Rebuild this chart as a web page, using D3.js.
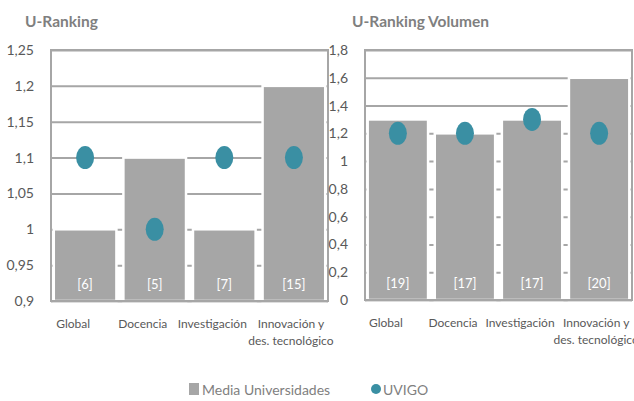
<!DOCTYPE html>
<html>
<head>
<meta charset="utf-8">
<script src="https://cdn.jsdelivr.net/npm/d3@7"></script>
<style>
  body { margin: 0; background: #fff; }
  svg { font-family: Lato, "Open Sans", sans-serif; }
</style>
</head>
<body>
<svg id="chart" width="634" height="401"></svg>
<script>
// data
const categories = ["Global", "Docencia", "Investigación", "Innovación y\ndes. tecnológico"];

const rankMedia = [1, 1.1, 1, 1.2];
const rankUvigo = [1.1, 1.0, 1.1, 1.1];
const rankCount = ["[6]", "[5]", "[7]", "[15]"];
const rankTicks = [0.9, 0.95, 1, 1.05, 1.1, 1.15, 1.2, 1.25];

const volMedia = [1.3, 1.2, 1.3, 1.6];
const volUvigo = [1.2, 1.2, 1.3, 1.2];
const volCount = ["[19]", "[17]", "[17]", "[20]"];
const volTicks = [0, 0.2, 0.4, 0.6, 0.8, 1, 1.2, 1.4, 1.6, 1.8];

const barColor = "#a6a6a6";
const dotColor = "#3a8fa3";
const gridColor = "#a6a6a6";
const textColor = "#595959";

const svg = d3.select("#chart");
const fmt = v => String(+v.toFixed(2)).replace(".", ",");

function drawPanel(opts) {
  const g = svg.append("g");

  const x = d3.scaleBand()
    .domain(categories)
    .range([opts.left, opts.right])
    .paddingInner(0.1)
    .paddingOuter(0.04);

  const y = d3.scaleLinear()
    .domain(d3.extent(opts.ticks))
    .range([opts.bottom, opts.top]);

  // title
  g.append("text")
    .attr("x", opts.titleX)
    .attr("y", 27)
    .attr("font-size", 15.5)
    .attr("font-weight", "bold")
    .attr("fill", "#7f7f7f")
    .text(opts.title);

  // gridlines
  g.append("g")
    .attr("transform", `translate(${opts.left},0)`)
    .call(d3.axisLeft(y).tickValues(opts.ticks).tickSize(-(opts.right - opts.left)).tickFormat(""))
    .call(a => a.select(".domain").remove())
    .call(a => a.selectAll("line").attr("stroke", gridColor).attr("stroke-width", 2));

  // frame
  g.append("rect")
    .attr("x", opts.left)
    .attr("y", opts.top)
    .attr("width", opts.right - opts.left)
    .attr("height", opts.bottom - opts.top)
    .attr("fill", "none")
    .attr("stroke", gridColor)
    .attr("stroke-width", 2);

  // y tick labels
  g.append("g")
    .attr("transform", `translate(${opts.left - 14},0)`)
    .call(d3.axisLeft(y).tickValues(opts.ticks).tickSize(0).tickFormat(fmt))
    .call(a => a.select(".domain").remove())
    .call(a => a.selectAll("text")
      .attr("fill", textColor)
      .attr("font-size", 14)
      .attr("font-family", "Lato, sans-serif"));

  // bars
  g.selectAll(".bar")
    .data(opts.media)
    .enter()
    .append("rect")
    .attr("class", "bar")
    .attr("x", (d, i) => x(categories[i]))
    .attr("width", x.bandwidth())
    .attr("y", d => y(d))
    .attr("height", d => y.range()[0] - y(d))
    .attr("fill", barColor)
    .attr("stroke", "#fff")
    .attr("stroke-width", 2.5);

  // bottom frame line over bars
  g.append("line")
    .attr("x1", opts.left).attr("x2", opts.right)
    .attr("y1", opts.bottom).attr("y2", opts.bottom)
    .attr("stroke", gridColor)
    .attr("stroke-width", 2);

  // count labels
  g.selectAll(".count")
    .data(opts.count)
    .enter()
    .append("text")
    .attr("x", (d, i) => x(categories[i]) + x.bandwidth() / 2)
    .attr("y", opts.bottom - 12)
    .attr("text-anchor", "middle")
    .attr("font-size", 13)
    .attr("fill", "#fff")
    .text(d => d);

  // dots
  g.selectAll(".dot")
    .data(opts.uvigo)
    .enter()
    .append("ellipse")
    .attr("cx", (d, i) => x(categories[i]) + x.bandwidth() / 2)
    .attr("cy", d => y(d))
    .attr("rx", 9)
    .attr("ry", 11.5)
    .attr("fill", dotColor);

  // category labels
  const labels = g.selectAll(".cat")
    .data(categories)
    .enter()
    .append("text")
    .attr("text-anchor", "middle")
    .attr("font-size", 12)
    .attr("fill", textColor)
    .attr("transform", (d, i) => `translate(${x(d) + x.bandwidth() / 2 + (i < 3 ? -12 : -3)},${opts.bottom + 27})`);

  labels.selectAll("tspan")
    .data(d => d.split("\n"))
    .enter()
    .append("tspan")
    .attr("x", 0)
    .attr("dy", (d, i) => i === 0 ? 0 : 17)
    .text(d => d);
}

drawPanel({
  title: "U-Ranking", titleX: 25,
  left: 51, right: 328, top: 50, bottom: 301,
  media: rankMedia, uvigo: rankUvigo, count: rankCount, ticks: rankTicks
});

drawPanel({
  title: "U-Ranking Volumen", titleX: 352,
  left: 365, right: 632, top: 50, bottom: 300,
  media: volMedia, uvigo: volUvigo, count: volCount, ticks: volTicks
});

// legend
const legend = svg.append("g");
legend.append("rect")
  .attr("x", 189).attr("y", 383)
  .attr("width", 10).attr("height", 12)
  .attr("fill", barColor);
legend.append("text")
  .attr("x", 202).attr("y", 395)
  .attr("font-size", 14)
  .attr("fill", "#7f7f7f")
  .text("Media Universidades");
legend.append("circle")
  .attr("cx", 376).attr("cy", 389)
  .attr("r", 5)
  .attr("fill", dotColor);
legend.append("text")
  .attr("x", 383).attr("y", 395)
  .attr("font-size", 14)
  .attr("fill", "#7f7f7f")
  .text("UVIGO");
</script>
</body>
</html>
